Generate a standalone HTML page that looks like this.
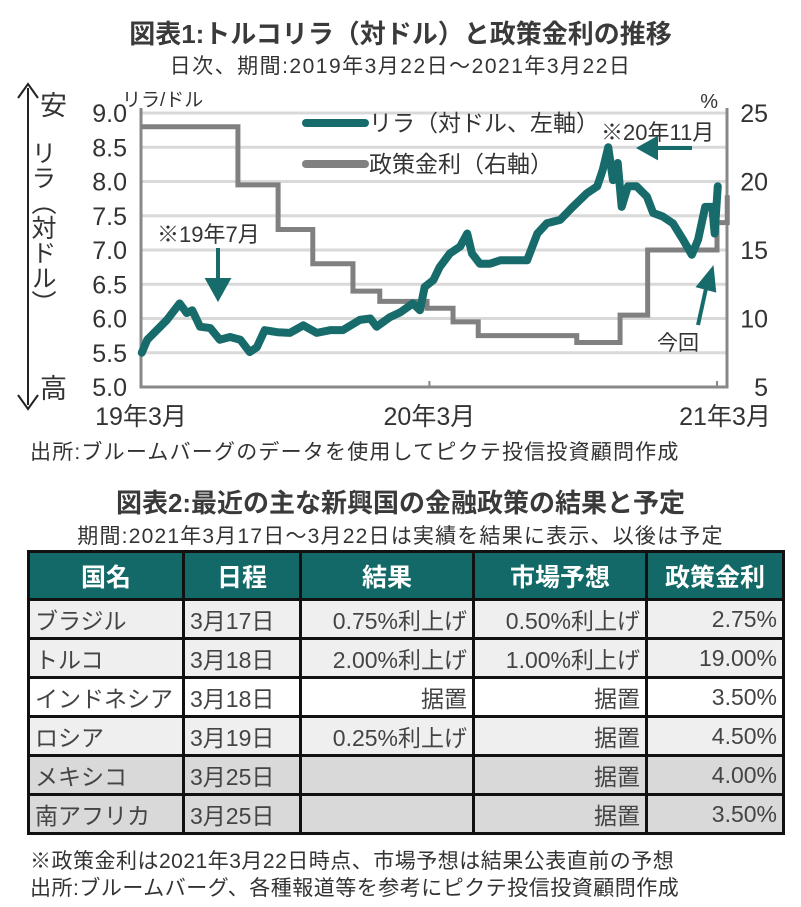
<!DOCTYPE html>
<html><head><meta charset="utf-8">
<style>
body{margin:0;width:801px;height:907px;background:#fff;font-family:"Liberation Sans","Noto Sans CJK JP",sans-serif;color:#333;position:relative;overflow:hidden}
.t{position:absolute;white-space:nowrap}
table{position:absolute;left:27px;top:550px;border-collapse:collapse;table-layout:fixed;width:755px}
td{border:3px solid #111;height:36px;font-size:23px;color:#444;padding:0 5px;white-space:nowrap;overflow:hidden}
th{border:3px solid #111;background:#136868;color:#fff;font-size:25px;height:43px;font-weight:bold}
</style></head><body>
<div class="t" style="left:0;width:801px;text-align:center;top:14px;font-size:26px;font-weight:bold;color:#3a3a3a">図表1:トルコリラ（対ドル）と政策金利の推移</div>
<div class="t" style="left:0;width:801px;text-align:center;top:50px;font-size:21px;letter-spacing:1.5px">日次、期間:2019年3月22日～2021年3月22日</div>
<svg id="chart" width="801" height="470" style="position:absolute;left:0;top:0" font-family="Liberation Sans, Noto Sans CJK JP, sans-serif"></svg>
<div class="t" style="left:28px;top:140px;font-size:25px;writing-mode:vertical-rl;line-height:28px">リラ（対ドル）</div>
<div class="t" style="left:30px;top:436px;font-size:21px;letter-spacing:1.2px">出所:ブルームバーグのデータを使用してピクテ投信投資顧問作成</div>
<div class="t" style="left:0;width:801px;text-align:center;top:483px;font-size:26px;font-weight:bold;color:#3a3a3a">図表2:最近の主な新興国の金融政策の結果と予定</div>
<div class="t" style="left:0;width:801px;text-align:center;top:520px;font-size:21px;letter-spacing:1.2px">期間:2021年3月17日～3月22日は実績を結果に表示、以後は予定</div>
<table>
<colgroup><col style="width:155px"><col style="width:117px"><col style="width:173px"><col style="width:173px"><col style="width:137px"></colgroup>
<tr><th>国名</th><th>日程</th><th>結果</th><th>市場予想</th><th>政策金利</th></tr>
<tr style="background:#efefef"><td>ブラジル</td><td>3月17日</td><td style="text-align:right">0.75%利上げ</td><td style="text-align:right">0.50%利上げ</td><td style="text-align:right">2.75%</td></tr>
<tr style="background:#efefef"><td>トルコ</td><td>3月18日</td><td style="text-align:right">2.00%利上げ</td><td style="text-align:right">1.00%利上げ</td><td style="text-align:right">19.00%</td></tr>
<tr style="background:#fff"><td>インドネシア</td><td>3月18日</td><td style="text-align:right">据置</td><td style="text-align:right">据置</td><td style="text-align:right">3.50%</td></tr>
<tr style="background:#efefef"><td>ロシア</td><td>3月19日</td><td style="text-align:right">0.25%利上げ</td><td style="text-align:right">据置</td><td style="text-align:right">4.50%</td></tr>
<tr style="background:#d9d9d9"><td>メキシコ</td><td>3月25日</td><td></td><td style="text-align:right">据置</td><td style="text-align:right">4.00%</td></tr>
<tr style="background:#d9d9d9"><td>南アフリカ</td><td>3月25日</td><td></td><td style="text-align:right">据置</td><td style="text-align:right">3.50%</td></tr>
</table>
<div class="t" style="left:30px;top:845px;font-size:21px;letter-spacing:0.5px">※政策金利は2021年3月22日時点、市場予想は結果公表直前の予想</div>
<div class="t" style="left:30px;top:872px;font-size:21px;letter-spacing:0.5px">出所:ブルームバーグ、各種報道等を参考にピクテ投信投資顧問作成</div>
<script>
const liraDays=[1,8,20,33,49,58,65,75,88,100,113,126,138,147,157,173,189,206,223,240,256,278,291,299,316,329,345,354,360,371,379,392,405,414,420,430,443,456,490,503,515,532,548,566,579,586,593,599,605,610,618,629,642,650,662,675,688,699,707,716,725,728,732];
const liraValues=[5.5,5.69,5.83,5.98,6.22,6.08,6.12,5.88,5.86,5.69,5.73,5.69,5.51,5.58,5.83,5.8,5.79,5.9,5.79,5.83,5.83,5.98,6.0,5.88,6.02,6.09,6.22,6.12,6.46,6.56,6.75,6.95,7.05,7.24,6.95,6.8,6.8,6.85,6.85,7.24,7.39,7.44,7.63,7.83,7.93,8.17,8.5,8.02,8.27,7.63,7.93,7.93,7.78,7.54,7.49,7.39,7.15,6.93,7.15,7.63,7.63,7.24,7.93];
const rateDays=[0,123,174,218,269,303,363,396,428,553,608,643,731,744];
const rateValues=[24,19.75,16.5,14,12,11.25,10.75,9.75,8.75,8.25,10.25,15,17,19];
const leftTicks=["5.0","5.5","6.0","6.5","7.0","7.5","8.0","8.5","9.0"];
const rightTicks=["5","10","15","20","25"];
const xLabels=[["19年3月",0],["20年3月",366],["21年3月",731]];
const NS="http://www.w3.org/2000/svg",svg=document.getElementById('chart');
const X0=141,X1=727,Y0=387,Y1=113;
const x=d=>X0+d*(717-141)/731;
const yL=v=>Y0-(v-5)*(Y0-Y1)/4;
const yR=v=>Y0-(v-5)*(Y0-Y1)/20;
function mk(t,a,txt){const e=document.createElementNS(NS,t);for(const k in a)e.setAttribute(k,a[k]);if(txt!=null)e.textContent=txt;svg.appendChild(e);return e;}
leftTicks.forEach(s=>{const v=parseFloat(s);
 if(v>5){const g=mk('line',{x1:X0,x2:X1,y1:yL(v),y2:yL(v),stroke:'#d9d9d9','stroke-width':3});
 
 }
 const t=mk('text',{x:127,y:yL(v)+9,'text-anchor':'end','font-size':25,fill:'#333'},s);
 
 });
rightTicks.forEach(s=>{const v=parseFloat(s);
 const t=mk('text',{x:768,y:yR(v)+9,'text-anchor':'end','font-size':25,fill:'#333'},s);
 
 });
const ax=mk('path',{d:`M${X0},${Y1-5}V${Y0}H${X1}V${Y1-5}`,fill:'none',stroke:'#888','stroke-width':3});


xLabels.forEach(([s,d])=>{mk('line',{x1:x(d),x2:x(d),y1:Y0,y2:Y0-6,stroke:'#888','stroke-width':2});
 const t=mk('text',{x:x(d)+(d==731?8:0),y:425,'text-anchor':'middle','font-size':25,fill:'#333'},s);
 
 });
let d='M'+x(rateDays[0])+','+yR(rateValues[0]);
for(let i=1;i<rateDays.length;i++){d+=`H${x(rateDays[i])}V${yR(rateValues[i])}`;}
const rp=mk('path',{d,fill:'none',stroke:'#808080','stroke-width':5});


const lp=mk('path',{d:'M'+liraDays.map((dd,i)=>x(dd)+','+yL(liraValues[i])).join('L'),fill:'none',stroke:'#176b6b','stroke-width':8,'stroke-linejoin':'round','stroke-linecap':'round'});


const l1=mk('line',{x1:306,x2:365,y1:123,y2:123,stroke:'#176b6b','stroke-width':8,'stroke-linecap':'round'});


const l2=mk('line',{x1:306,x2:365,y1:164,y2:164,stroke:'#808080','stroke-width':8,'stroke-linecap':'round'});


const lt1=mk('text',{x:369,y:131,'font-size':23,fill:'#333'},'リラ（対ドル、左軸）');


const lt2=mk('text',{x:369,y:172,'font-size':23,fill:'#333'},'政策金利（右軸）');


[["リラ/ドル",122,106,19,'start'],["%",718,108,20,'end'],["※19年7月",157,242,22,'start'],["※20年11月",601,140,22,'start'],["今回",657,350,21,'start'],["安",40,115,27,'start'],["高",40,398,27,'start']].forEach(([s,tx,ty,fs,an])=>{
 const t=mk('text',{x:tx,y:ty,'font-size':fs,fill:'#333','text-anchor':an},s);
 
 });
const va=mk('path',{d:'M28,88V405M18,98L28,84L38,98M18,395L28,409L38,395',fill:'none',stroke:'#222','stroke-width':2});


const a1=mk('path',{d:'M218,248V286M208,280L218,298L228,280Z',fill:'#176b6b',stroke:'#176b6b','stroke-width':4});


const a2=mk('path',{d:'M692,148H650M656,139L640,148L656,157Z',fill:'#176b6b',stroke:'#176b6b','stroke-width':4});


const a3=mk('path',{d:'M698,325L707,284M699,286L712,270L714,290Z',fill:'#176b6b',stroke:'#176b6b','stroke-width':4});


</script>
</body></html>
